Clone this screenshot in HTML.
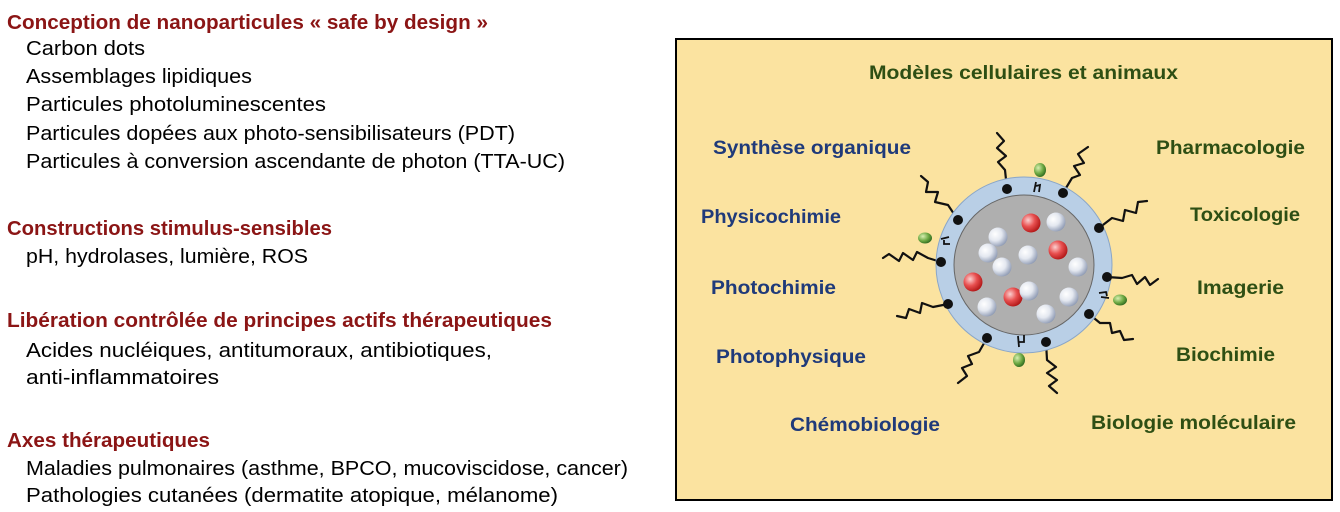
<!DOCTYPE html>
<html><head><meta charset="utf-8"><style>
html,body{margin:0;padding:0;background:#fff;width:1340px;height:512px;overflow:hidden}
svg{display:block}
.h{font-family:"Liberation Sans",sans-serif;font-weight:bold;font-size:20px;fill:#8B1515}
.t{font-family:"Liberation Sans",sans-serif;font-size:20px;fill:#000}
.b{font-family:"Liberation Sans",sans-serif;font-weight:bold;font-size:19px;fill:#1F3A7A}
.g{font-family:"Liberation Sans",sans-serif;font-weight:bold;font-size:19px;fill:#2E4F14}
</style></head><body>
<svg width="1340" height="512" viewBox="0 0 1340 512">
<defs>
<radialGradient id="w" cx="0.35" cy="0.35" r="0.7"><stop offset="0" stop-color="#fff"/><stop offset="0.5" stop-color="#e4e8f0"/><stop offset="1" stop-color="#8f9bb4"/></radialGradient>
<radialGradient id="r" cx="0.35" cy="0.35" r="0.7"><stop offset="0" stop-color="#fbd0d0"/><stop offset="0.5" stop-color="#e85050"/><stop offset="1" stop-color="#b01515"/></radialGradient>
<radialGradient id="gr" cx="0.35" cy="0.35" r="0.7"><stop offset="0" stop-color="#d8efb0"/><stop offset="0.6" stop-color="#6aa640"/><stop offset="1" stop-color="#2f6a20"/></radialGradient>
</defs>
<text class="h" x="7" y="29" textLength="481" lengthAdjust="spacingAndGlyphs">Conception de nanoparticules « safe by design »</text>
<text class="t" x="26" y="55" textLength="119" lengthAdjust="spacingAndGlyphs">Carbon dots</text>
<text class="t" x="26" y="83" textLength="226" lengthAdjust="spacingAndGlyphs">Assemblages lipidiques</text>
<text class="t" x="26" y="111" textLength="300" lengthAdjust="spacingAndGlyphs">Particules photoluminescentes</text>
<text class="t" x="26" y="140" textLength="489" lengthAdjust="spacingAndGlyphs">Particules dopées aux photo-sensibilisateurs (PDT)</text>
<text class="t" x="26" y="168" textLength="539" lengthAdjust="spacingAndGlyphs">Particules à conversion ascendante de photon (TTA-UC)</text>
<text class="h" x="7" y="235" textLength="325" lengthAdjust="spacingAndGlyphs">Constructions stimulus-sensibles</text>
<text class="t" x="26" y="263" textLength="282" lengthAdjust="spacingAndGlyphs">pH, hydrolases, lumière, ROS</text>
<text class="h" x="7" y="327" textLength="545" lengthAdjust="spacingAndGlyphs">Libération contrôlée de principes actifs thérapeutiques</text>
<text class="t" x="26" y="357" textLength="466" lengthAdjust="spacingAndGlyphs">Acides nucléiques, antitumoraux, antibiotiques,</text>
<text class="t" x="26" y="384" textLength="193" lengthAdjust="spacingAndGlyphs">anti-inflammatoires</text>
<text class="h" x="7" y="447" textLength="203" lengthAdjust="spacingAndGlyphs">Axes thérapeutiques</text>
<text class="t" x="26" y="475" textLength="602" lengthAdjust="spacingAndGlyphs">Maladies pulmonaires (asthme, BPCO, mucoviscidose, cancer)</text>
<text class="t" x="26" y="502" textLength="532" lengthAdjust="spacingAndGlyphs">Pathologies cutanées (dermatite atopique, mélanome)</text>

<rect x="676" y="39" width="656" height="461" fill="#FBE3A0" stroke="#000" stroke-width="2"/>
<text class="g" x="869" y="79" textLength="309" lengthAdjust="spacingAndGlyphs">Modèles cellulaires et animaux</text>
<text class="b" x="713" y="154" textLength="198" lengthAdjust="spacingAndGlyphs">Synthèse organique</text>
<text class="b" x="701" y="223" textLength="140" lengthAdjust="spacingAndGlyphs">Physicochimie</text>
<text class="b" x="711" y="294" textLength="125" lengthAdjust="spacingAndGlyphs">Photochimie</text>
<text class="b" x="716" y="363" textLength="150" lengthAdjust="spacingAndGlyphs">Photophysique</text>
<text class="b" x="790" y="431" textLength="150" lengthAdjust="spacingAndGlyphs">Chémobiologie</text>
<text class="g" x="1156" y="154" textLength="149" lengthAdjust="spacingAndGlyphs">Pharmacologie</text>
<text class="g" x="1190" y="221" textLength="110" lengthAdjust="spacingAndGlyphs">Toxicologie</text>
<text class="g" x="1197" y="294" textLength="87" lengthAdjust="spacingAndGlyphs">Imagerie</text>
<text class="g" x="1176" y="361" textLength="99" lengthAdjust="spacingAndGlyphs">Biochimie</text>
<text class="g" x="1091" y="429" textLength="205" lengthAdjust="spacingAndGlyphs">Biologie moléculaire</text>

<g fill="none" stroke="#111" stroke-width="2.2" stroke-linecap="round" stroke-linejoin="round">
<path d="M1007,189 L1005,170 L998,162 L1006,156 L997,148 L1004,141 L997,133"/>
<path d="M1063,193 L1072,178 L1080,175 L1074,166 L1084,163 L1078,154 L1088,147"/>
<path d="M958,220 L948,205 L935,202 L938,192 L926,192 L928,182 L921,176"/>
<path d="M1099,228 L1112,218 L1123,221 L1125,210 L1136,213 L1138,202 L1147,201"/>
<path d="M941,262 L928,258 L917,252 L913,260 L903,253 L899,261 L889,254 L883,258"/>
<path d="M1107,277 L1122,278 L1132,275 L1137,284 L1145,277 L1150,285 L1158,279"/>
<path d="M948,304 L933,307 L922,303 L920,313 L909,309 L906,318 L897,316"/>
<path d="M1089,314 L1100,323 L1110,323 L1112,333 L1120,331 L1124,340 L1133,339"/>
<path d="M987,338 L979,352 L968,356 L972,364 L962,368 L967,376 L958,383"/>
<path d="M1046,342 L1047,360 L1056,367 L1047,373 L1057,380 L1049,386 L1057,393"/>
</g>
<circle cx="1024" cy="265" r="88" fill="#B9CFE6" stroke="#8aa6c8" stroke-width="1"/>
<circle cx="1024" cy="265" r="70" fill="#AFAFAF" stroke="#666" stroke-width="1"/>
<g fill="url(#w)">
<circle cx="998" cy="237" r="9.5"/><circle cx="988" cy="253" r="9.5"/><circle cx="1002" cy="267" r="9.5"/>
<circle cx="1028" cy="255" r="9.5"/><circle cx="1056" cy="222" r="9.5"/><circle cx="1078" cy="267" r="9.5"/>
<circle cx="987" cy="307" r="9.5"/><circle cx="1069" cy="297" r="9.5"/><circle cx="1046" cy="314" r="9.5"/>
</g>
<g fill="url(#r)">
<circle cx="1031" cy="223" r="9.5"/><circle cx="1058" cy="250" r="9.5"/><circle cx="973" cy="282" r="9.5"/><circle cx="1013" cy="297" r="9.5"/>
</g>
<circle cx="1029" cy="291" r="9.5" fill="url(#w)"/>
<g fill="#111">
<circle cx="1007" cy="189" r="5"/><circle cx="1063" cy="193" r="5"/><circle cx="958" cy="220" r="5"/>
<circle cx="1099" cy="228" r="5"/><circle cx="941" cy="262" r="5"/><circle cx="1107" cy="277" r="5"/>
<circle cx="948" cy="304" r="5"/><circle cx="1089" cy="314" r="5"/><circle cx="987" cy="338" r="5"/>
<circle cx="1046" cy="342" r="5"/>
</g>
<g fill="none" stroke="#111" stroke-width="1.8">
<path d="M1034,192 L1036,182 M1036,186 L1040,185 L1039,192"/>
<path d="M949,237 L941,239 M944,240 L944,244 L950,244"/>
<path d="M1101,297 L1109,298 M1107,296 L1106,292 L1099,293"/>
<path d="M1018,336 L1019,347 M1018,342 L1024,342 L1024,335"/>
</g>
<g fill="url(#gr)">
<ellipse cx="1040" cy="170" rx="6" ry="7"/>
<ellipse cx="925" cy="238" rx="7" ry="5.5"/>
<ellipse cx="1120" cy="300" rx="7" ry="5.5"/>
<ellipse cx="1019" cy="360" rx="6" ry="7"/>
</g>
</svg>
</body></html>
